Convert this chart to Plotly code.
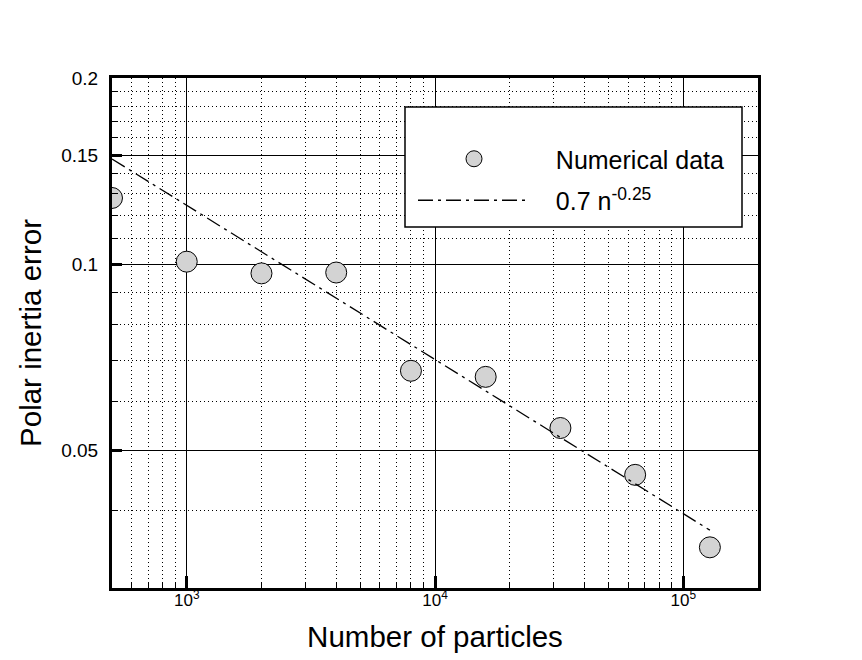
import plotly.graph_objects as go
import numpy as np

# Data
n_particles = [500, 1000, 2000, 4000, 8000, 16000, 32000, 64000, 128000]
polar_error = [0.128, 0.101, 0.0967, 0.097, 0.0673, 0.0658, 0.0544, 0.0457, 0.0349]

fit_n = [500, 128000]
fit_err = [0.148, 0.0372]

x_major = [1e3, 1e4, 1e5]
x_major_text = ["10<sup>3</sup>", "10<sup>4</sup>", "10<sup>5</sup>"]
x_minor = [600, 700, 800, 900] + [k * 1e3 for k in range(2, 10)] + [k * 1e4 for k in range(2, 10)]

y_major = [0.05, 0.1, 0.15, 0.2]
y_major_text = ["0.05", "0.1", "0.15", "0.2"]
y_minor = [0.03, 0.04, 0.06, 0.07, 0.08, 0.09, 0.11, 0.12, 0.13, 0.14, 0.16, 0.17, 0.18, 0.19]

FONT = "Arial, Liberation Sans, sans-serif"
PAD = "\u00a0\u00a0\u00a0"

fig = go.Figure()
fig.add_trace(go.Scatter(
    x=n_particles, y=polar_error, mode="markers", name=PAD + "Numerical data",
    legendgroup="data",
    marker=dict(symbol="circle", size=21, color="#d3d3d3", line=dict(color="black", width=1)),
))
fig.add_trace(go.Scatter(
    x=fit_n, y=fit_err, mode="lines", name=PAD + "0.7 n<sup>-0.25</sup>",
    legendgroup="fit",
    line=dict(color="black", width=1.3, dash="15px,5px,3px,5px"),
))

minor_common = dict(ticks="inside", ticklen=6, tickwidth=1, tickcolor="black",
                    showgrid=True, gridcolor="black", griddash="1px,3px", gridwidth=1)

fig.update_xaxes(
    type="log", range=[np.log10(500), np.log10(2e5)],
    tickmode="array", tickvals=x_major, ticktext=x_major_text,
    ticks="inside", ticklen=12, tickwidth=3, tickcolor="black",
    showgrid=True, gridcolor="black", gridwidth=1,
    showline=True, linecolor="black", linewidth=3, mirror=True,
    tickfont=dict(family=FONT, size=17, color="black"), ticklabelstandoff=-5,
    minor=dict(tickmode="array", tickvals=x_minor, **minor_common),
    title=dict(text="Number of particles", font=dict(family=FONT, size=29.5, color="black"), standoff=17),
    zeroline=False,
)
fig.update_yaxes(
    type="log", range=[np.log10(0.03), np.log10(0.2)],
    tickmode="array", tickvals=y_major, ticktext=y_major_text,
    ticks="inside", ticklen=10, tickwidth=3, tickcolor="black",
    showgrid=True, gridcolor="black", gridwidth=1,
    showline=True, linecolor="black", linewidth=3, mirror=True,
    tickfont=dict(family=FONT, size=19, color="black"), ticklabelstandoff=7,
    minor=dict(tickmode="array", tickvals=y_minor, **minor_common),
    title=dict(text="Polar inertia error", font=dict(family=FONT, size=29.5, color="black"), standoff=11),
    zeroline=False,
)

fig.add_shape(type="rect", xref="paper", yref="paper",
              x0=(405 - 112) / 646, x1=(742 - 112) / 646,
              y0=(588 - 227) / 510, y1=(588 - 107) / 510,
              fillcolor="white", line=dict(color="black", width=1.5), layer="above")

fig.update_layout(
    width=854, height=652,
    margin=dict(l=104, r=104, t=70, b=72),
    paper_bgcolor="white", plot_bgcolor="white",
    font=dict(family=FONT, color="black"),
    showlegend=True,
    legend=dict(x=(413 - 112) / 646, y=(588 - 136) / 510, xanchor="left", yanchor="top",
                bgcolor="rgba(0,0,0,0)", borderwidth=0,
                font=dict(family=FONT, size=25, color="black"),
                itemwidth=112, itemsizing="trace",
                traceorder="grouped", tracegroupgap=6),
)

fig.write_html("out.html")
